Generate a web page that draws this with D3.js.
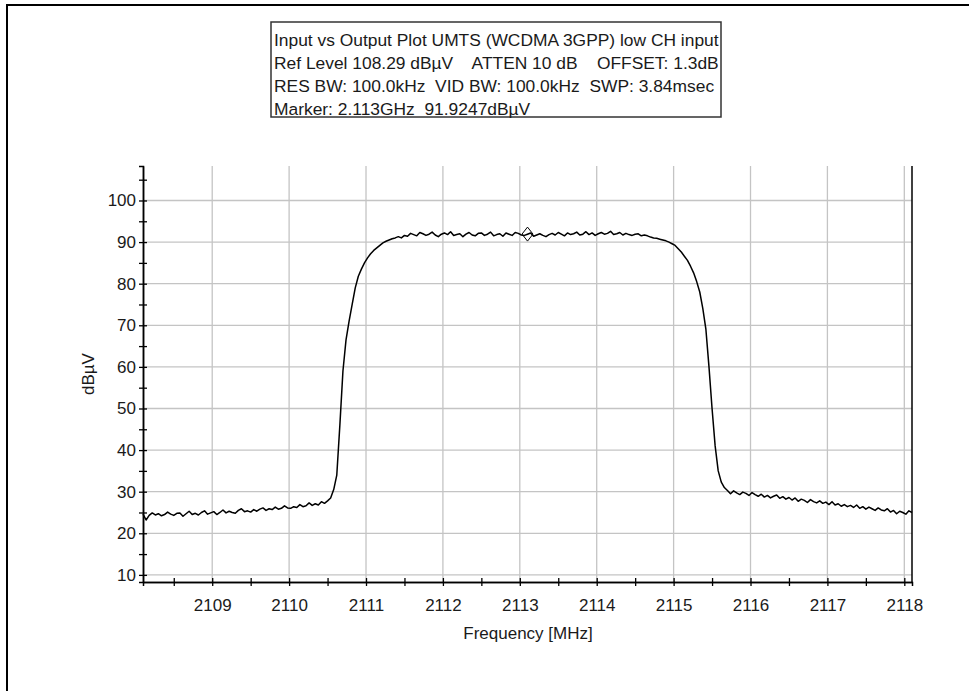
<!DOCTYPE html>
<head>
  <meta charset="utf8">
  <title>UMTS input vs output</title>
  <script src="https://d3js.org/d3.v7.min.js"></script>
  <style>
    body { margin: 0; background: #fff; }
    text { font-family: "Liberation Sans", Arial, sans-serif; fill: #1a1a1a; }
  </style>
</head>
<body>
<script>

  // Header text shown in the box above the plot
  var headerLines = [
    "Input vs Output Plot UMTS (WCDMA 3GPP) low CH input",
    "Ref Level 108.29 dB\u00b5V    ATTEN 10 dB    OFFSET: 1.3dB",
    "RES BW: 100.0kHz  VID BW: 100.0kHz  SWP: 3.84msec",
    "Marker: 2.113GHz  91.9247dB\u00b5V"
  ];

  // Sweep settings (MHz) and reference level / display range (dBuV)
  var sweepStart = 2108.1, sweepStop = 2118.1;
  var refLevel = 108.29, bottomLevel = 8.29;

  var xTicks = [2109, 2110, 2111, 2112, 2113, 2114, 2115, 2116, 2117, 2118];
  var xMinorTicks = [2108.5, 2109.5, 2110.5, 2111.5, 2112.5, 2113.5, 2114.5, 2115.5, 2116.5, 2117.5];
  var yTicks = [10, 20, 30, 40, 50, 60, 70, 80, 90, 100];
  var yMinorTicks = [15, 25, 35, 45, 55, 65, 75, 85, 95, 105];

  // Marker read out
  var markerFreq = 2113.1, markerLevel = 91.92;

  // trace levels, one per sweep point (251 points)
  var noiseLeft = [
    24.6, 23.2, 24.3, 24.9, 24.4, 24.7, 24.2, 24.5, 25.1, 24.6,
    24.3, 24.8, 24.9, 24.1, 24.7, 25.3, 24.5, 24.8, 24.4, 25.0,
    25.4, 24.6, 24.9, 25.2, 24.5, 25.0, 25.6, 24.9, 25.3, 25.0,
    24.8, 25.5, 25.9, 25.2, 25.4, 25.1, 25.7, 25.3, 25.8, 26.1,
    25.5, 25.9, 25.7, 26.3, 25.8, 26.0, 26.6, 26.1, 26.0, 26.4,
    26.2, 26.9, 26.4, 26.6, 27.3, 26.7, 27.1, 26.8, 27.6, 27.2,
    27.8
  ];
  var riseEdge = [
    28.5, 30.5, 34.0, 46.0, 59.0, 66.5, 71.0, 75.0, 79.0, 81.8,
    83.5, 85.0, 86.2, 87.2, 88.0, 88.6, 89.2, 89.8, 90.2, 90.5,
    90.8, 91.0, 91.3, 91.0, 91.6
  ];
  var channelTop = [
    91.4, 92.1, 91.8, 91.5, 92.3, 92.0, 91.6, 91.9, 92.4, 91.7,
    91.3, 91.9, 92.2, 91.8, 92.5, 91.6, 91.8, 92.0, 91.3, 91.9,
    92.3, 91.7, 91.5, 92.1, 92.2, 91.6, 91.9, 92.4, 91.5, 91.8,
    92.0, 91.4, 92.2, 91.9, 91.6, 92.3, 92.1, 91.7, 91.6, 91.9,
    92.2, 91.4, 91.7, 92.0, 91.6, 91.3, 91.8, 92.1, 91.7, 92.3,
    91.9, 91.5, 92.2, 91.8, 92.0, 92.4, 91.7, 91.9, 92.5, 91.8,
    92.2, 91.6, 92.0, 92.3, 91.9, 92.1, 92.6, 91.8, 92.0, 92.3,
    91.7, 92.1, 91.8, 91.6, 91.9, 92.0, 91.5, 91.7
  ];
  var fallEdge = [
    91.5, 91.2, 91.0, 90.9, 90.7, 90.5, 90.3, 90.0, 89.6, 89.2,
    88.4, 87.6, 86.6, 85.6, 84.2, 82.6, 80.5, 78.0, 74.0, 69.0,
    60.0, 50.0, 41.0, 35.0, 32.3, 31.0, 30.3
  ];
  var noiseRight = [
    29.5, 30.2, 29.7, 29.3, 29.9, 29.6, 29.1, 29.8, 29.3,
    28.9, 29.4, 28.7, 29.1, 28.5, 28.9, 29.2, 28.4, 28.8, 28.2,
    28.6, 28.0, 28.5, 27.7, 28.2, 27.9, 27.4, 28.1, 27.6, 27.3,
    27.8, 27.2, 27.5, 26.9, 27.6, 26.8, 27.1, 26.5, 26.9, 26.4,
    26.7, 26.2, 26.8, 26.0, 26.4, 25.8, 26.3, 25.9, 25.5, 26.1,
    25.6, 25.4, 25.9, 25.1, 25.5, 24.7, 25.3, 25.0, 24.6, 25.4,
    25.0
  ];

  var levels = noiseLeft.concat(riseEdge, channelTop, fallEdge, noiseRight);
  var step = (sweepStop - sweepStart) / (levels.length - 1);
  var trace = levels.map(function(v, i) { return [sweepStart + i * step, v]; });

  var width = 969, height = 691;
  var plot = { left: 143, right: 912, top: 166, bottom: 582 };

  var svg = d3.select("body").append("svg")
              .attr("width", width)
              .attr("height", height);

  // outer window frame
  svg.append("rect")
     .attr("x", 7).attr("y", 5)
     .attr("width", width + 20).attr("height", height + 20)
     .attr("fill", "none").attr("stroke", "#000").attr("stroke-width", 2);

  var x = d3.scaleLinear().domain([sweepStart, sweepStop]).range([plot.left, plot.right]),
      y = d3.scaleLinear().domain([bottomLevel, refLevel]).range([plot.bottom, plot.top]);

  // gridlines
  var grid = svg.append("g").attr("stroke", "#c4c4c4").attr("stroke-width", 1.3);
  grid.selectAll("line.v").data(xTicks).enter().append("line")
      .attr("x1", function(d) { return x(d); }).attr("x2", function(d) { return x(d); })
      .attr("y1", plot.top).attr("y2", plot.bottom);
  grid.selectAll("line.h").data(yTicks).enter().append("line")
      .attr("x1", plot.left).attr("x2", plot.right)
      .attr("y1", function(d) { return y(d); }).attr("y2", function(d) { return y(d); });

  // right border of the plot
  svg.append("line")
     .attr("x1", plot.right).attr("x2", plot.right)
     .attr("y1", plot.top).attr("y2", plot.bottom)
     .attr("stroke", "#000").attr("stroke-width", 1.5);

  // trace
  var line = d3.line().x(function(d) { return x(d[0]); }).y(function(d) { return y(d[1]); });
  svg.append("path")
     .datum(trace)
     .attr("fill", "none")
     .attr("stroke", "#000")
     .attr("stroke-width", 1.5)
     .attr("stroke-linejoin", "round")
     .attr("d", line);

  // marker diamond
  var mx = x(markerFreq), my = y(markerLevel);
  svg.append("path")
     .attr("d", "M" + mx + "," + (my - 7) + "L" + (mx + 5.5) + "," + my +
                "L" + mx + "," + (my + 7) + "L" + (mx - 5.5) + "," + my + "Z")
     .attr("fill", "none").attr("stroke", "#000").attr("stroke-width", 1);

  // axes: ticks cross the axis line
  function crossTicks(g, horiz) {
    g.select(".domain").attr("stroke", "#000").attr("stroke-width", 1.5);
    g.selectAll(".tick line").attr("stroke", "#000").attr("stroke-width", 1.3);
    if (horiz) g.selectAll(".tick line").attr("y1", -4);
    else g.selectAll(".tick line").attr("x1", 4);
    g.selectAll("text").attr("font-size", 17).attr("fill", "#1a1a1a")
     .attr("font-family", "'Liberation Sans', Arial, sans-serif");
  }

  var yAxisMinor = svg.append("g").attr("transform", "translate(" + plot.left + ",0)")
      .call(d3.axisLeft(y).tickValues(yMinorTicks).tickSize(4).tickFormat(""));
  crossTicks(yAxisMinor, false);
  var yAxis = svg.append("g").attr("transform", "translate(" + plot.left + ",0)")
      .call(d3.axisLeft(y).tickValues(yTicks).tickSize(4).tickSizeOuter(0).tickPadding(3)
              .tickFormat(d3.format("d")));
  crossTicks(yAxis, false);

  var xAxisMinor = svg.append("g").attr("transform", "translate(0," + plot.bottom + ")")
      .call(d3.axisBottom(x).tickValues(xMinorTicks).tickSize(4).tickFormat(""));
  crossTicks(xAxisMinor, true);
  var xAxis = svg.append("g").attr("transform", "translate(0," + plot.bottom + ")")
      .call(d3.axisBottom(x).tickValues(xTicks).tickSize(4).tickSizeOuter(0).tickPadding(13)
              .tickFormat(d3.format("d")));
  crossTicks(xAxis, true);

  // axis titles
  svg.append("text")
     .attr("transform", "translate(94,374) rotate(-90)")
     .attr("text-anchor", "middle")
     .attr("font-size", 17)
     .text("dB\u00b5V");
  svg.append("text")
     .attr("x", 528).attr("y", 639)
     .attr("text-anchor", "middle")
     .attr("font-size", 17)
     .text("Frequency [MHz]");

  // header box
  svg.append("rect")
     .attr("x", 271).attr("y", 22).attr("width", 450).attr("height", 95)
     .attr("fill", "#fff").attr("stroke", "#333").attr("stroke-width", 1.5);
  svg.selectAll("text.hdr").data(headerLines).enter().append("text")
     .attr("class", "hdr")
     .attr("x", 274)
     .attr("y", function(d, i) { return 46 + i * 23; })
     .attr("font-size", 17.4)
     .attr("xml:space", "preserve")
     .style("white-space", "pre")
     .text(function(d) { return d; });

</script>
</body>
